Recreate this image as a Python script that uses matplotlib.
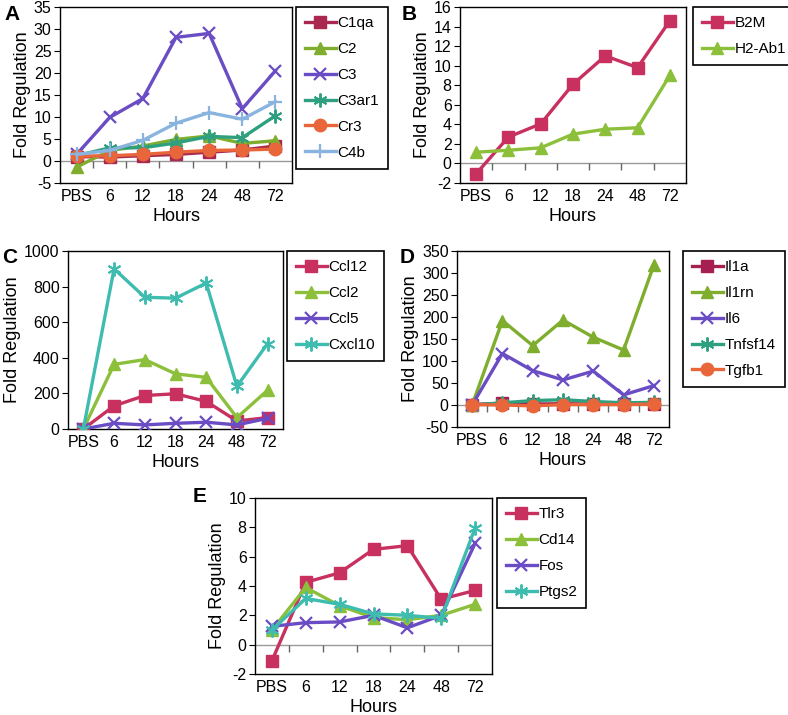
import matplotlib
matplotlib.use("Agg")
import matplotlib.pyplot as plt
import numpy as np

plt.rcParams.update({
    "font.family": ["Liberation Sans", "DejaVu Sans"],
    "font.size": 11,
    "axes.unicode_minus": False,
})

hours = ["PBS", "6", "12", "18", "24", "48", "72"]

# panel A
a_genes = ["C1qa", "C2", "C3", "C3ar1", "Cr3", "C4b"]
c1qa = [1.0, 0.9, 1.2, 1.5, 2.0, 2.5, 3.4]
c2 = [-1.4, 2.4, 3.4, 4.9, 5.7, 4.0, 4.6]
c3 = [1.5, 9.9, 14.2, 28.1, 29.0, 11.9, 20.5]
c3ar1 = [1.2, 3.0, 3.0, 4.1, 5.6, 5.3, 10.3]
cr3 = [1.1, 1.2, 1.5, 2.0, 2.4, 2.5, 2.7]
c4b = [1.5, 2.4, 4.7, 8.6, 11.0, 9.5, 13.5]

# panel B
b_genes = ["B2M", "H2-Ab1"]
b2m = [-1.05, 2.7, 4.05, 8.1, 11.0, 9.8, 14.6]
h2ab1 = [1.15, 1.35, 1.6, 3.0, 3.5, 3.65, 9.0]

# panel C
c_genes = ["Ccl12", "Ccl2", "Ccl5", "Cxcl10"]
ccl12 = [0, 130, 188, 198, 155, 45, 64]
ccl2 = [0, 363, 390, 310, 290, 64, 218]
ccl5 = [0, 32, 23, 32, 38, 23, 60]
cxcl10 = [0, 900, 740, 735, 820, 240, 480]

# panel D
d_genes = ["Il1a", "Il1rn", "Il6", "Tnfsf14", "Tgfb1"]
il1a = [1, 4, 2, 3, 2, 2, 3]
il1rn = [0, 192, 135, 193, 154, 125, 318]
il6 = [0, 117, 78, 57, 77, 23, 44]
tnfsf14 = [0, 5, 10, 12, 8, 5, 6]
tgfb1 = [1, 0, -2, 1, 1, 1, 2]

# panel E
e_genes = ["Tlr3", "Cd14", "Fos", "Ptgs2"]
tlr3 = [-1.1, 4.25, 4.9, 6.5, 6.75, 3.1, 3.7]
cd14 = [1.0, 3.9, 2.65, 1.85, 1.7, 2.0, 2.75]
fos = [1.25, 1.5, 1.55, 2.0, 1.15, 2.0, 6.9]
ptgs2 = [1.0, 3.15, 2.75, 2.1, 2.0, 1.8, 7.95]

W, H = 788, 715
fig = plt.figure(figsize=(W / 100, H / 100), dpi=100)

RED = "#c8305f"
GREEN = "#8cbf3a"
PURPLE = "#6a4cc4"
TEAL = "#2fa07f"
CYAN = "#3fbcb0"
ORANGE = "#e8663a"
LBLUE = "#8ab4e0"

styles = {
    "sq": dict(marker="s", ms=8),
    "tri": dict(marker="^", ms=8),
    "x": dict(marker="x", ms=9, mew=1.6),
    "star": dict(marker=(6, 2, 0), ms=10, mew=1.4),
    "o": dict(marker="o", ms=9),
    "plus": dict(marker="+", ms=10, mew=1.6),
}


def make_panel(box, letter, letter_xy, series, ylim, yticks, leg_xy, zero_line=True):
    l, t, r, b = box
    ax = fig.add_axes([l / W, 1 - b / H, (r - l) / W, (b - t) / H])
    x = np.arange(len(hours))
    if zero_line:
        ax.axhline(0, color="#999999", lw=1, zorder=1)
    bounds = np.arange(len(hours) - 1) + 0.5
    ax.plot(bounds, np.zeros_like(bounds), ls="none", marker=3, ms=5,
            color="#666666", mew=1, zorder=1)
    handles = []
    for name, vals, color, st in series:
        h, = ax.plot(x, vals, color=color, lw=2.4, label=name, zorder=3,
                     mec=color, mfc=color, **styles[st])
        handles.append(h)
    ax.set_xlim(-0.5, len(hours) - 0.5)
    ax.set_ylim(*ylim)
    ax.set_yticks(yticks)
    ax.set_xticks(x, hours)
    ax.tick_params(axis="x", length=0, pad=4, labelsize=11.5)
    ax.tick_params(axis="y", length=4, labelsize=11.5, pad=2)
    for s in ax.spines.values():
        s.set_linewidth(1)
    ax.set_xlabel("Hours", fontsize=13, labelpad=3)
    ax.set_ylabel("Fold Regulation", fontsize=13, labelpad=2)
    fig.text(letter_xy[0] / W, 1 - letter_xy[1] / H, letter, fontsize=15,
             fontweight="bold", ha="left", va="center")
    leg = fig.legend(handles=handles, loc="upper left",
                     bbox_to_anchor=(leg_xy[0] / W, 1 - leg_xy[1] / H),
                     fancybox=False, edgecolor="black", framealpha=1,
                     fontsize=11, handlelength=2.0, handletextpad=0.1,
                     labelspacing=0.78, borderpad=0.6, borderaxespad=0)
    leg.get_frame().set_linewidth(1.2)
    return ax


make_panel((60, 7, 292, 183), "A", (4, 15), [
    ("C1qa", c1qa, "#a8284f", "sq"),
    ("C2", c2, "#7fae2e", "tri"),
    ("C3", c3, PURPLE, "x"),
    ("C3ar1", c3ar1, TEAL, "star"),
    ("Cr3", cr3, ORANGE, "o"),
    ("C4b", c4b, LBLUE, "plus"),
], (-5, 35), np.arange(-5, 36, 5), (296, 7))

make_panel((460, 7, 686, 183), "B", (402, 15), [
    ("B2M", b2m, RED, "sq"),
    ("H2-Ab1", h2ab1, GREEN, "tri"),
], (-2, 16), np.arange(-2, 17, 2), (693, 7))

make_panel((68, 251, 283, 429), "C", (2, 258), [
    ("Ccl12", ccl12, RED, "sq"),
    ("Ccl2", ccl2, GREEN, "tri"),
    ("Ccl5", ccl5, PURPLE, "x"),
    ("Cxcl10", cxcl10, CYAN, "star"),
], (0, 1000), np.arange(0, 1001, 200), (287, 251), zero_line=False)

make_panel((457, 251, 669, 427), "D", (400, 258), [
    ("Il1a", il1a, "#a52050", "sq"),
    ("Il1rn", il1rn, "#7fae2e", "tri"),
    ("Il6", il6, PURPLE, "x"),
    ("Tnfsf14", tnfsf14, TEAL, "star"),
    ("Tgfb1", tgfb1, ORANGE, "o"),
], (-50, 350), np.arange(-50, 351, 50), (683, 251))

make_panel((255, 498, 492, 674), "E", (193, 497), [
    ("Tlr3", tlr3, RED, "sq"),
    ("Cd14", cd14, GREEN, "tri"),
    ("Fos", fos, PURPLE, "x"),
    ("Ptgs2", ptgs2, CYAN, "star"),
], (-2, 10), np.arange(-2, 11, 2), (497, 498))

fig.savefig("out.png", dpi=100)
